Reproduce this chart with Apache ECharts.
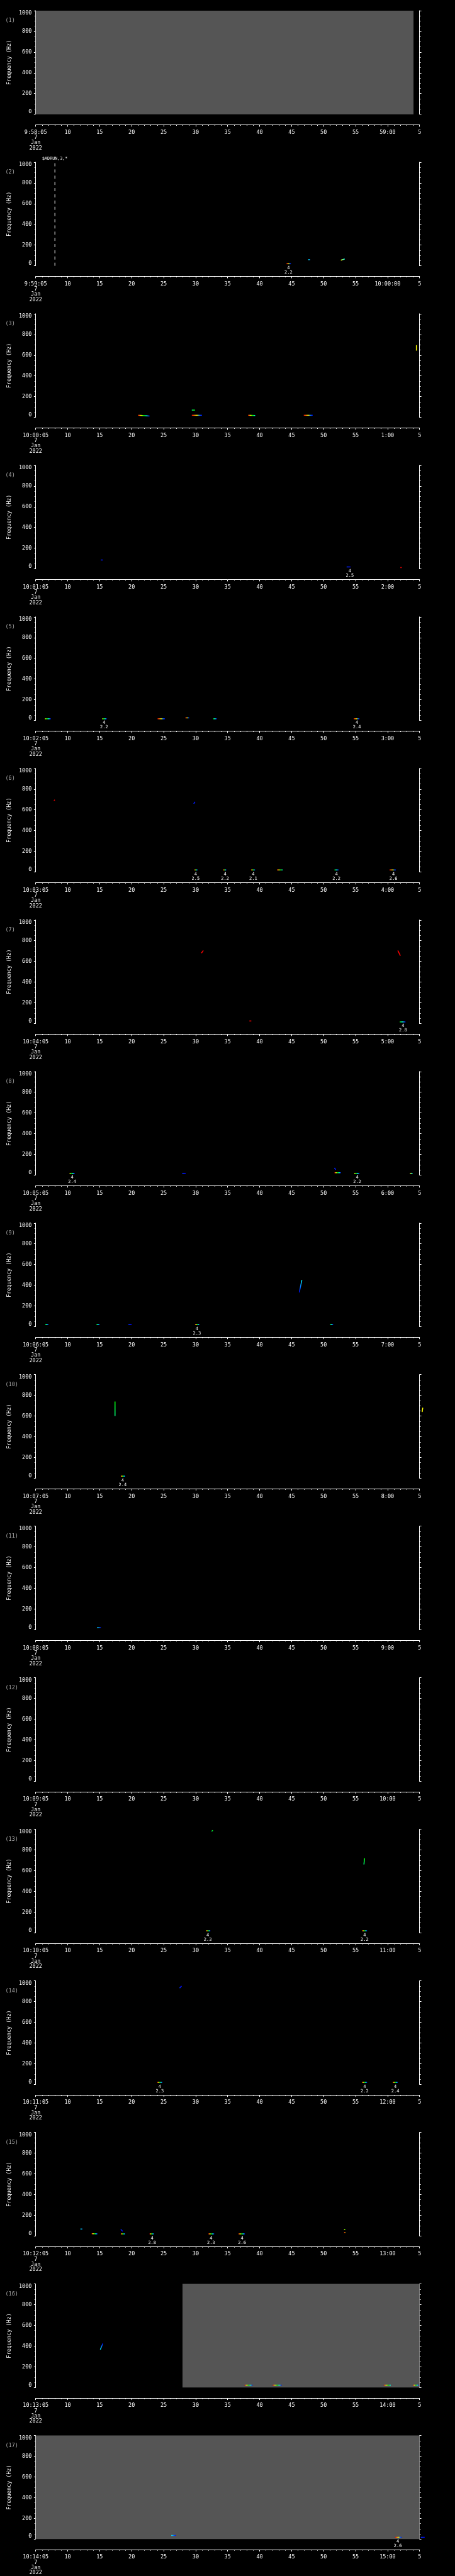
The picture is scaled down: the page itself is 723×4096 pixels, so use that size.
<!DOCTYPE html>
<html><head><meta charset="utf-8">
<script src="https://cdn.jsdelivr.net/npm/echarts@6/dist/echarts.min.js"></script>
<style>html,body{margin:0;padding:0;background:#000;}#c{width:723px;height:4096px;}</style>
</head><body><div id="c"></div>
<script>
// ---------------- DATA ----------------
const panelNames = ['(1)','(2)','(3)','(4)','(5)','(6)','(7)','(8)','(9)','(10)','(11)','(12)','(13)','(14)','(15)','(16)','(17)'];
const startLabels = ['9:58:05','9:59:05','10:00:05','10:01:05','10:02:05','10:03:05','10:04:05','10:05:05','10:06:05','10:07:05','10:08:05','10:09:05','10:10:05','10:11:05','10:12:05','10:13:05','10:14:05'];
const minuteLabels = ['59:00','10:00:00','1:00','2:00','3:00','4:00','5:00','6:00','7:00','8:00','9:00','10:00','11:00','12:00','13:00','14:00','15:00'];
const dateLines = ['7','Jan','2022'];
const secondLabels = ['10','15','20','25','30','35','40','45','50','55']; // at offsets 5..50 s
const endLabel = '5';
const freqTicks = [0,200,400,600,800,1000];

// gray (no data) ranges: [panel, tStart, tEnd]
const grayRanges = [[1,0,59.05],[16,22.95,60],[17,0,60]];

// spectral blobs: [panel, t0, f0, t1, f1, palette]
const blobs = [
 [2,39.2,20,39.9,20,'ryb'],[2,42.6,59,42.9,59,'c'],[2,47.7,54,48.3,66,'yc'],
 [3,16.0,20,17.8,13,'rb'],[3,24.4,70,24.9,70,'g'],[3,24.4,20,26.0,20,'ryb'],[3,33.2,20,34.3,18,'rc'],[3,41.9,20,43.3,20,'ryb'],[3,59.5,644,59.5,697,'y'],
 [4,10.2,86,10.5,86,'b'],[4,48.6,19,49.2,19,'b'],[4,57.0,13,57.2,13,'r'],
 [5,1.45,16,2.36,16,'yb'],[5,10.4,16,11.1,16,'yb'],[5,19.05,16,20.2,16,'ryb'],[5,23.4,25,24.0,25,'ryb'],[5,27.75,16,28.3,16,'gb'],[5,49.7,16,50.6,16,'ryb'],
 [6,2.85,689,3.0,697,'r'],[6,24.7,659,24.9,678,'b'],[6,24.8,20,25.3,20,'rb'],[6,29.3,20,29.8,20,'rb'],[6,33.65,20,34.3,20,'rb'],[6,37.7,20,38.6,20,'rc'],[6,46.7,20,47.35,20,'gb'],[6,55.3,20,56.3,20,'ryb'],
 [7,25.9,680,26.2,705,'r'],[7,33.4,25,33.7,25,'r'],[7,56.6,705,57.0,655,'r'],[7,56.9,16,57.8,16,'gb'],
 [8,5.3,17,6.1,17,'yb'],[8,22.9,17,23.45,17,'b'],[8,46.7,70,46.9,51,'b'],[8,46.7,23,47.7,23,'rb'],[8,49.8,17,50.6,17,'yb'],[8,58.5,17,58.9,17,'yc'],
 [9,1.5,20,2.0,20,'gb'],[9,9.5,20,10.0,20,'gb'],[9,14.5,20,15.0,20,'b'],[9,24.9,20,25.6,20,'rb'],[9,41.2,330,41.6,450,'bc'],[9,46.0,20,46.5,20,'gb'],
 [10,12.4,600,12.4,740,'g'],[10,13.3,20,14.0,20,'rb'],[10,60.4,640,60.5,680,'y'],
 [11,9.6,20,10.2,20,'cb'],
 [13,27.5,980,27.7,990,'g'],[13,26.6,20,27.3,20,'rb'],[13,51.3,660,51.4,720,'g'],[13,51.0,20,51.8,20,'rb'],
 [14,22.5,930,22.8,950,'b'],[14,19.0,20,19.8,20,'rb'],[14,51.0,20,51.8,20,'rb'],[14,55.8,20,56.6,20,'rb'],
 [15,7.0,67,7.3,67,'c'],[15,8.75,22,9.66,20,'rb'],[15,13.3,64,13.6,44,'b'],[15,13.3,20,14.0,20,'rb'],[15,17.8,20,18.5,20,'rb'],[15,27.0,20,27.9,20,'rb'],[15,31.7,20,32.7,20,'rb'],[15,48.2,63,48.4,63,'yg'],[15,48.2,33,48.4,33,'ry'],
 [16,10.5,425,10.1,366,'bc'],[16,32.65,23,33.9,23,'rb'],[16,37.05,23,38.45,23,'rb'],[16,54.4,23,55.5,23,'rc'],[16,58.95,23,59.9,23,'rb'],
 [17,21.2,35,21.9,35,'cb'],[17,56.2,17,57.2,17,'ryb'],[17,60.2,17,60.8,17,'b']
];

// detection labels: [panel, t, code, magnitude]
const detections = [
 [2,39.5,'4','2.2'],[4,49.1,'4','2.5'],[5,10.7,'4','2.2'],[5,50.2,'4','2.4'],
 [6,25.0,'4','2.5'],[6,29.6,'4','2.2'],[6,34.0,'4','2.1'],[6,47.0,'4','2.2'],[6,55.9,'4','2.6'],
 [7,57.4,'4','2.8'],[8,5.7,'4','2.4'],[8,50.25,'4','2.2'],
 [9,25.2,'4','2.3'],[10,13.6,'4','2.4'],[13,26.9,'4','2.3'],[13,51.4,'4','2.2'],
 [14,19.4,'4','2.3'],[14,51.4,'4','2.2'],[14,56.2,'4','2.4'],
 [15,18.2,'4','2.8'],[15,27.4,'4','2.3'],[15,32.25,'4','2.6'],[17,56.6,'4','2.6']
];

// event markers: [panel, t, text]
const markers = [[2,3.0,'$ADRUN,3,*']];

// ---------------- STYLE / LAYOUT ----------------
const S = 723/1024;
const palettes = {
 rb:['#ff0000','#ffff00','#00ff00','#00ffff','#0000ff'],
 ryb:['#ff0000','#ff8000','#ffff00','#0080ff','#0000ff'],
 rc:['#ff0000','#ffff00','#00ff00','#00ffff'],
 yb:['#ffff00','#00ff00','#00ffff','#0000ff'],
 yc:['#ffff00','#00ffff'],
 gb:['#00ff00','#00ffff','#0000ff'],
 cb:['#00ffff','#0000ff'],
 bc:['#0000ff','#00ffff'],
 yg:['#ffff00','#00ff00'],
 ry:['#ff0000','#ffff00'],
 b:['#0030ff','#0000ff'], r:['#ff0000','#ff0000'], y:['#ffff00','#ffff00'],
 c:['#00ffff','#0080ff'], g:['#00ff80','#00ff00']
};
const FONT = '"DejaVu Sans Mono", "Liberation Mono", monospace';
const L = {left:80.3, width:864, top0:24, pitch:341.3, height:233.3, xGap:24};
const WHITE = '#ffffff';

const chart = echarts.init(document.getElementById('c'), null, {renderer:'canvas', width:723, height:4096});

const grids=[], xAxes=[], yAxes=[], series=[], titles=[];
for (let i=0;i<17;i++){
  const n=i+1;
  const top=(L.top0+L.pitch*i)*S;
  grids.push({left:L.left*S, width:L.width*S, top:top, height:L.height*S});
  titles.push({text:panelNames[i], left:12*S, top:(L.top0+L.pitch*i+17)*S, padding:0,
    textStyle:{color:'#a8a8a8', fontSize:12*S, fontFamily:FONT, fontWeight:'normal'}});
  const lineStyle={color:WHITE, width:1};
  xAxes.push({gridIndex:i, type:'value', min:0, max:60, interval:5, position:'bottom', offset:L.xGap*S,
    axisLine:{show:true, onZero:false, lineStyle},
    axisTick:{show:true, inside:false, length:4*S, lineStyle},
    minorTick:{show:true, splitNumber:5, length:2*S, lineStyle},
    splitLine:{show:false}, minorSplitLine:{show:false},
    axisLabel:{show:true, color:WHITE, fontFamily:FONT, fontSize:12*S, lineHeight:11.8*S, margin:11*S,
      showMinLabel:true, showMaxLabel:true, hideOverlap:false,
      formatter:(v)=>{
        const k=Math.round(v/5);
        if(k===0) return [startLabels[i]].concat(dateLines).join('\n');
        if(k===11) return minuteLabels[i];
        if(k===12) return endLabel;
        return secondLabels[k-1];
      }}
  });
  const yCommon={gridIndex:i, type:'value', min:0, max:1000, interval:200,
    axisLine:{show:true, onZero:false, lineStyle},
    axisTick:{show:true, inside:false, length:4*S, lineStyle},
    minorTick:{show:true, splitNumber:4, length:2.5*S, lineStyle},
    splitLine:{show:false}, minorSplitLine:{show:false}};
  yAxes.push(Object.assign({}, yCommon, {position:'left',
    axisLabel:{show:true, color:WHITE, fontFamily:FONT, fontSize:12*S, margin:9*S,
      verticalAlignMinLabel:'bottom', verticalAlignMaxLabel:'top',
      formatter:(v)=>freqTicks.indexOf(v)>=0?String(v):''},
    name:'Frequency (Hz)', nameLocation:'middle', nameRotate:90, nameGap:50*S,
    nameTextStyle:{color:WHITE, fontFamily:FONT, fontSize:12*S}}));
  yAxes.push(Object.assign({}, yCommon, {position:'right', axisLabel:{show:false}}));

  const gray = grayRanges.filter(g=>g[0]===n);
  series.push({type:'custom', xAxisIndex:i, yAxisIndex:2*i, z:1, silent:true,
    data: gray.map(g=>[g[1],g[2]]),
    renderItem:(p,api)=>{
      const a=api.coord([api.value(0),1000]), b=api.coord([api.value(1),0]);
      return {type:'rect', shape:{x:a[0], y:a[1], width:b[0]-a[0], height:b[1]-a[1]}, style:{fill:'#555555'}};
    }});

  const bl = blobs.filter(b=>b[0]===n);
  series.push({type:'custom', xAxisIndex:i, yAxisIndex:2*i, z:3, silent:true, clip:false,
    data: bl.map(b=>[b[1],b[2],b[3],b[4]]),
    renderItem:(p,api)=>{
      const rec=bl[p.dataIndex];
      let a=api.coord([api.value(0),api.value(1)]), b=api.coord([api.value(2),api.value(3)]);
      if (Math.abs(b[0]-a[0])<1 && Math.abs(b[1]-a[1])<1) b=[a[0]+1.2,b[1]];
      const cols=palettes[rec[5]];
      const stops=cols.map((c,k)=>({offset:cols.length===1?0:k/(cols.length-1), color:c}));
      return {type:'line', shape:{x1:a[0],y1:a[1],x2:b[0],y2:b[1]},
        style:{stroke:new echarts.graphic.LinearGradient(a[0],a[1],b[0],b[1],stops,true), lineWidth:1.5, lineCap:'butt'}};
    }});

  const det = detections.filter(d=>d[0]===n);
  series.push({type:'custom', xAxisIndex:i, yAxisIndex:2*i, z:4, silent:true, clip:false,
    data: det.map(d=>[d[1],0]),
    renderItem:(p,api)=>{
      const d=det[p.dataIndex];
      const a=api.coord([api.value(0),0]);
      return {type:'text', x:a[0], y:a[1]+0.5*S, style:{text:d[2]+'\n'+d[3], fill:WHITE,
        font:(10*S)+'px '+FONT, align:'center', verticalAlign:'top', lineHeight:10*S}};
    }});

  const mk = markers.filter(m=>m[0]===n);
  series.push({type:'custom', xAxisIndex:i, yAxisIndex:2*i, z:4, silent:true, clip:false,
    data: mk.map(m=>[m[1]]),
    renderItem:(p,api)=>{
      const m=mk[p.dataIndex];
      const a=api.coord([api.value(0),0]), b=api.coord([api.value(0),1000]);
      return {type:'group', children:[
        {type:'line', shape:{x1:a[0],y1:a[1],x2:b[0],y2:b[1]}, style:{stroke:WHITE, lineWidth:1, lineDash:[7*S,7*S]}},
        {type:'text', x:b[0], y:b[1]-8*S, style:{text:m[2], fill:WHITE, font:(9.5*S)+'px '+FONT, align:'center', verticalAlign:'middle'}}
      ]};
    }});
}

chart.setOption({backgroundColor:'#000000', animation:false, title:titles, grid:grids, xAxis:xAxes, yAxis:yAxes, series:series});
</script></body></html>
